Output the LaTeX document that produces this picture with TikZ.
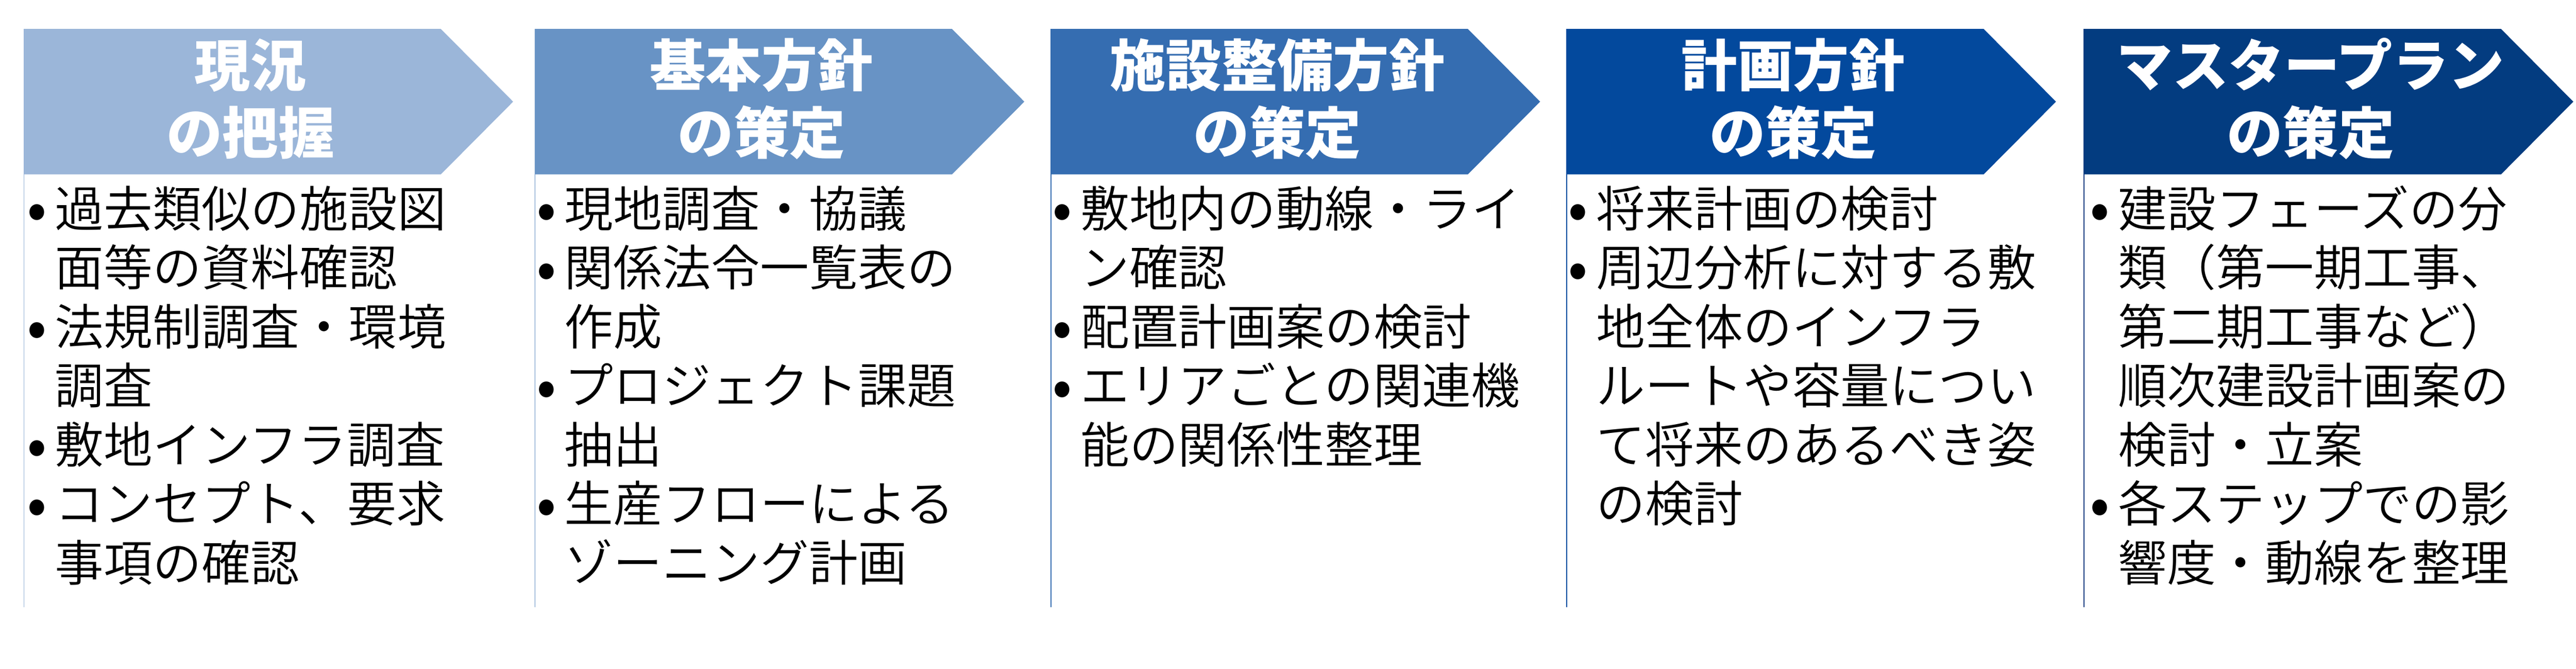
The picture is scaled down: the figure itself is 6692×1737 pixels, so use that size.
\documentclass[tikz,border=0pt]{standalone}
\usepackage{fontspec}
\newfontfamily\jpfont{Noto Sans CJK JP}
\newfontfamily\jplight{Noto Sans CJK JP DemiLight}
\definecolor{hA}{HTML}{9BB6D9}
\definecolor{hB}{HTML}{6893C5}
\definecolor{hC}{HTML}{356DB1}
\definecolor{hD}{HTML}{03499D}
\definecolor{hE}{HTML}{033C80}
\newcommand\bl{\llap{\makebox[0.94cm]{\raisebox{-0.06em}{\scalebox{1.2}{\jpfont •}}}}}
\begin{document}
\begin{tikzpicture}[x=0.01cm,y=-0.01cm,
  head/.style={text=white, font=\jpfont\bfseries\fontsize{41.26pt}{50pt}\selectfont, anchor=base, inner sep=0pt},
  body/.style={text=black, font=\jplight\fontsize{36.13pt}{44pt}\selectfont, anchor=base west, inner sep=0pt},
  sideline/.style={line width=0.02cm},
]
\useasboundingbox[fill=white] (0,0) rectangle (6692,1737);
% columns: left edge / colour / id / header line 1 / header line 2
\foreach \L/\C/\n/\ta/\tb in {62/hA/1/現況/の把握, 1390/hB/2/基本方針/の策定, 2730/hC/3/施設整備方針/の策定, 4070/hD/4/計画方針/の策定, 5414/hE/5/マスタープラン/の策定} {
  \draw[sideline, \C] (\L,75) -- (\L,1576);
  \fill[\C] (\L,75) -- ++(1083,0) -- ++(188,189) -- ++(-188,189) -- ++(-1083,0) -- cycle;
  \node[head] (h\n a) at (\L+588.5,224) {\ta};
  \node[head] (h\n b) at (\L+588.5,400) {\tb};
}
% column 1
\foreach \t [count=\i] in {\bl 過去類似の施設図, 面等の資料確認, \bl 法規制調査・環境, 調査, \bl 敷地インフラ調査, \bl コンセプト、要求, 事項の確認}
  \node[body] (a\i) at (142, 589+153.3*\i-153.3) {\t};
% column 2
\foreach \t [count=\i] in {\bl 現地調査・協議, \bl 関係法令一覧表の, 作成, \bl プロジェクト課題, 抽出, \bl 生産フローによる, ゾーニング計画}
  \node[body] (b\i) at (1466, 589+153.3*\i-153.3) {\t};
% column 3
\foreach \t [count=\i] in {\bl 敷地内の動線・ライ, ン確認, \bl 配置計画案の検討, \bl エリアごとの関連機, 能の関係性整理}
  \node[body] (c\i) at (2806, 589+153.3*\i-153.3) {\t};
% column 4
\foreach \t [count=\i] in {\bl 将来計画の検討, \bl 周辺分析に対する敷, 地全体のインフラ, ルートや容量につい, て将来のあるべき姿, の検討}
  \node[body] (d\i) at (4146, 589+153.3*\i-153.3) {\t};
% column 5
\foreach \t [count=\i] in {\bl 建設フェーズの分, 類（第一期工事、, 第二期工事など）, 順次建設計画案の, 検討・立案, \bl 各ステップでの影, 響度・動線を整理}
  \node[body] (e\i) at (5502, 589+153.3*\i-153.3) {\t};
\end{tikzpicture}
\end{document}
